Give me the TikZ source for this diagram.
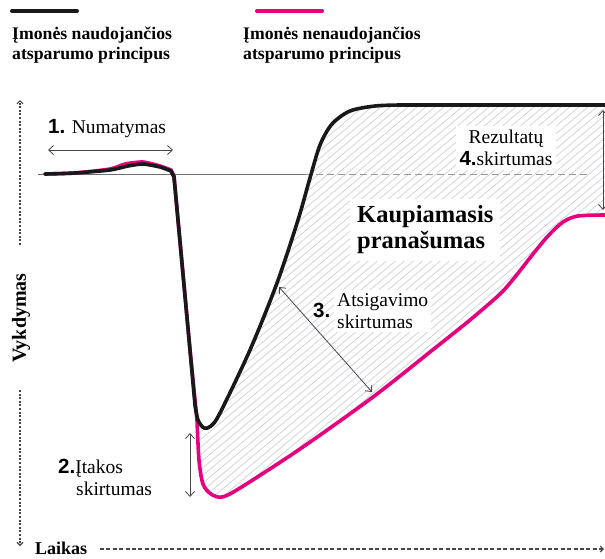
\documentclass[tikz,border=0pt]{standalone}
\usepackage{fontspec}
\setmainfont{Liberation Serif}
\newfontfamily\numfont{Liberation Sans}
\newcommand\numtxt{\numfont\bfseries\fontsize{20.5}{22}\selectfont}
\usetikzlibrary{arrows.meta}
\definecolor{pinkc}{RGB}{230,0,126}
\definecolor{blackc}{RGB}{25,25,25}
\definecolor{hatchc}{RGB}{205,209,215}
\definecolor{axisc}{RGB}{70,70,70}
\definecolor{basec}{RGB}{110,110,110}
\tikzset{
  blackline/.style={draw=blackc, line width=3.6pt, line join=round, line cap=round},
  pinkline/.style={draw=pinkc, line width=3.6pt, line join=round, line cap=round},
  dimarrow/.style={draw=axisc, line width=0.8pt, {Straight Barb[length=5pt,width=9pt]}-{Straight Barb[length=5pt,width=9pt]}},
  axisline/.style={draw=axisc, line width=1.1pt, dash pattern=on 2pt off 1.6pt, -{Straight Barb[length=3pt,width=6pt]}},
  taxisline/.style={draw=axisc, line width=1.1pt, dash pattern=on 4pt off 2.4pt, -{Straight Barb[length=3pt,width=6pt]}},
  hatchline/.style={draw=hatchc, line width=0.7pt},
  lbl/.style={inner sep=0pt, font=\fontsize{19.5}{22}\selectfont},
  leg/.style={inner sep=0pt, align=left, font=\fontsize{17.7}{20}\bfseries\selectfont},
  num/.style={font=\numtxt}
}
\begin{document}
\begin{tikzpicture}[x=1pt,y=-1pt]
\useasboundingbox[fill=white] (0,0) rectangle (605,558);

% hatched region
\begin{scope}
\clip plot[smooth,tension=0.5] coordinates {(195,405) (198,420) (204,428) (211,426) (220,413) (250,350) (277,283) (298,220) (310,178) (320,145) (332,124) (350,111) (375,106) (400,105)} -- (606,105) -- (606,215) -- plot[smooth,tension=0.5] coordinates {(605,215) (578,216) (563,222) (548,236) (533,254) (515,277) (500,294) (470,320) (430,352) (373,397) (300,449) (240,488) (222,497) (211,494) (203,484) (199,460) (197,420)} -- cycle;
\foreach \i in {-420,-411,...,640} \draw[hatchline] (\i,560) -- ++(596,-500);
\end{scope}

% baseline
\coordinate (b0) at (38,174);
\coordinate (b1) at (305,174);
\coordinate (b2) at (590,174);
\draw[draw=basec, line width=1pt] (b0) -- (b1);
\draw[draw=basec!70, line width=1pt, dash pattern=on 7pt off 4pt] (b1) -- (b2);

% curves
\draw[pinkline] plot[smooth,tension=0.4] coordinates {(45,174) (75,173) (110,169) (125,164) (143,162) (160,166) (171,170)} -- (174,176) -- (190,350) -- plot[smooth,tension=0.5] coordinates {(197,420) (199,460) (203,484) (211,494) (222,497) (240,488) (300,449) (373,397) (430,352) (470,320) (500,294) (515,277) (533,254) (548,236) (563,222) (578,216) (605,215)};
\draw[blackline] plot[smooth,tension=0.4] coordinates {(45,174) (75,173) (110,170) (128,166) (143,164) (160,167) (171,171)} -- (174,177) -- (190,350) -- plot[smooth,tension=0.5] coordinates {(195,405) (198,420) (204,428) (211,426) (220,413) (250,350) (277,283) (298,220) (310,178) (320,145) (332,124) (350,111) (375,106) (400,105)} -- (607,105);

% legend
\coordinate (lg1a) at (12,11); \coordinate (lg1b) at (77,11);
\coordinate (lg2a) at (257,11); \coordinate (lg2b) at (322,11);
\draw[blackline, line width=4pt] (lg1a) -- (lg1b);
\draw[pinkline, line width=4pt] (lg2a) -- (lg2b);
\node[leg, anchor=west] (leg1) at (12,45) {Įmonės naudojančios\\atsparumo principus};
\node[leg, anchor=west] (leg2) at (243,45) {Įmonės nenaudojančios\\atsparumo principus};

% axes
\coordinate (y0) at (20,245); \coordinate (y1) at (20,100);
\coordinate (y2) at (20,390); \coordinate (y3) at (20,546);
\draw[axisline] (y0) -- (y1);
\draw[axisline] (y2) -- (y3);
\node[inner sep=0pt, rotate=90, font=\fontsize{20}{22}\bfseries\selectfont] (vykd) at (21,318) {Vykdymas};
\node[inner sep=0pt, anchor=base west, font=\fontsize{18}{20}\bfseries\selectfont] (laik) at (35,554) {Laikas};
\coordinate (x0) at (100,549); \coordinate (x1) at (604,549);
\draw[taxisline] (x0) -- (x1);

% 1
\coordinate (a1s) at (48,150); \coordinate (a1e) at (173,150);
\draw[dimarrow] (a1s) -- (a1e);
\node[lbl, anchor=west] (numat) at (48,129) {{\numtxt 1.} Numatymas};

% 2
\coordinate (a2s) at (190,433); \coordinate (a2e) at (190,497);
\draw[dimarrow] (a2s) -- (a2e);
\node[lbl, anchor=west, align=left] (itak) at (58,477) {{\numtxt 2.}Įtakos\\\hspace*{18pt}skirtumas};

% 3
\coordinate (a3s) at (279,287); \coordinate (a3e) at (372,392);
\draw[dimarrow] (a3s) -- (a3e);
\node[lbl, anchor=west, align=left, fill=white, inner sep=3pt] (atsig) at (334,311) {Atsigavimo\\skirtumas};
\node[num, inner sep=0pt, anchor=west] (n3) at (313,310) {3.};

% 4
\coordinate (a4s) at (603,110); \coordinate (a4e) at (603,210);
\draw[dimarrow] (a4s) -- (a4e);
\node[lbl, align=center, fill=white, inner sep=4pt] (rezul) at (506,148) {Rezultatų\\{\numtxt 4.}skirtumas};

% cumulative advantage
\node[anchor=west, align=left, fill=white, inner sep=7pt, font=\fontsize{24.5}{26}\bfseries\selectfont] (kaup) at (350,230) {Kaupiamasis\\pranašumas};
\end{tikzpicture}
\end{document}
